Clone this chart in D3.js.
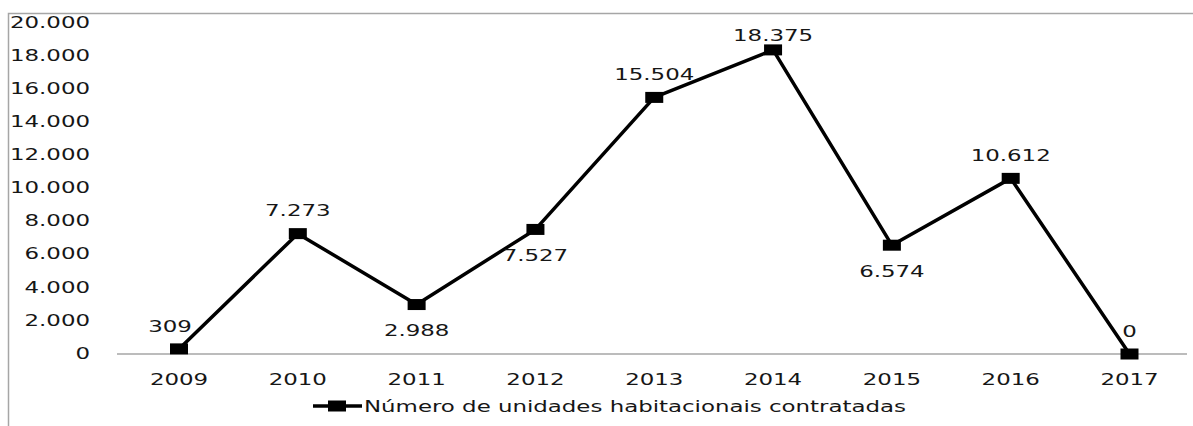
<!DOCTYPE html>
<html>
<head>
<meta charset="utf-8">
<script src="https://d3js.org/d3.v7.min.js"></script>
<style>
  body { margin: 0; background: #fff; }
  svg text { font-family: "DejaVu Sans", sans-serif; fill: #161616; }
</style>
</head>
<body>
<script>
// data
var years = ["2009", "2010", "2011", "2012", "2013", "2014", "2015", "2016", "2017"];
var units = [309, 7273, 2988, 7527, 15504, 18375, 6574, 10612, 0];
var labelSide = ["aboveLeft", "above", "below", "below", "above", "above", "below", "above", "above"];
var yTicks = [0, 2000, 4000, 6000, 8000, 10000, 12000, 14000, 16000, 18000, 20000];
var seriesName = "Número de unidades habitacionais contratadas";

var width = 1193, height = 426;
var sx = 1.43; // the original is stretched horizontally

var fmt = function(v) { return d3.format(",")(v).replace(/,/g, "."); };

var svg = d3.select("body").append("svg")
    .attr("width", width)
    .attr("height", height);

// chart frame (only top and left edges visible)
svg.append("path")
    .attr("d", "M8.5," + height + "V13.5H" + width)
    .attr("fill", "none")
    .attr("stroke", "#a6a6a6")
    .attr("stroke-width", 1.5);

var x = d3.scalePoint()
    .domain(years)
    .range([179, 1129.5]);

var y = d3.scaleLinear()
    .domain([0, 20000])
    .range([354, 23]);

function stretchedText(sel, tx, ty, anchor, txt, size) {
  return sel.append("text")
      .attr("transform", "translate(" + tx + "," + ty + ") scale(" + sx + ",1)")
      .attr("text-anchor", anchor)
      .attr("dy", "0.36em")
      .style("font-size", (size || 16) + "px")
      .text(txt);
}

// y tick labels
yTicks.forEach(function(t) {
  stretchedText(svg, 90, y(t) - 1, "end", fmt(t));
});

// category axis line
svg.append("line")
    .attr("x1", 117).attr("x2", 1187)
    .attr("y1", y(0)).attr("y2", y(0))
    .attr("stroke", "#a6a6a6")
    .attr("stroke-width", 1.5);

// x tick labels
years.forEach(function(yr) {
  stretchedText(svg, x(yr), 379, "middle", yr);
});

// line
var line = d3.line()
    .x(function(d, i) { return x(years[i]); })
    .y(function(d) { return y(d); });

svg.append("path")
    .datum(units)
    .attr("d", line)
    .attr("fill", "none")
    .attr("stroke", "#000")
    .attr("stroke-width", 3.5)
    .attr("stroke-linejoin", "round");

var mw = 18, mh = 11;
svg.selectAll(".marker")
    .data(units)
  .enter().append("rect")
    .attr("class", "marker")
    .attr("x", function(d, i) { return x(years[i]) - mw / 2; })
    .attr("y", function(d) { return y(d) - mh / 2; })
    .attr("width", mw)
    .attr("height", mh)
    .attr("fill", "#000");

// data labels
units.forEach(function(v, i) {
  var px = x(years[i]), py = y(v);
  var side = labelSide[i];
  var ly = side === "below" ? py + 26 : Math.max(py - 23, 35);
  var lx = side === "aboveLeft" ? px - 9 : px;
  stretchedText(svg, lx, ly, "middle", fmt(v));
});

// legend
var lg = svg.append("g");
lg.append("line")
    .attr("x1", 313).attr("x2", 362)
    .attr("y1", 406).attr("y2", 406)
    .attr("stroke", "#000")
    .attr("stroke-width", 3.5);
lg.append("rect")
    .attr("x", 337 - mw / 2).attr("y", 406 - mh / 2)
    .attr("width", mw).attr("height", mh)
    .attr("fill", "#000");
stretchedText(lg, 364, 406, "start", seriesName);
</script>
</body>
</html>
